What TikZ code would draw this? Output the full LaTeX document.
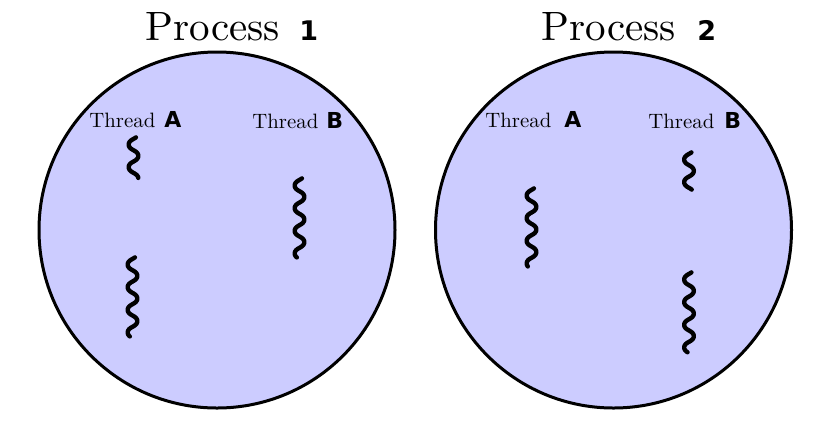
\documentclass[tikz,border=0pt]{standalone}
\usepackage{fontspec}
\newfontfamily\lblfont{DejaVu Sans}
\newfontfamily\titlefont{lmroman10-regular.otf}
\definecolor{procfill}{HTML}{CCCCFF}
\tikzset{
  proc/.style={draw=black, line width=1.5pt, fill=procfill},
  title/.style={anchor=base west, inner sep=0pt, font=\titlefont\fontsize{20.5}{24}\selectfont},
  titlenum/.style={anchor=base west, inner sep=0pt, font=\lblfont\bfseries\fontsize{13.5}{16}\selectfont},
  thr/.style={anchor=base west, inner sep=0pt, font=\titlefont\fontsize{10.4}{13}\selectfont},
  thrid/.style={anchor=base west, inner sep=0pt, font=\lblfont\bfseries\fontsize{11}{13}\selectfont},
  squig/.style={line width=2.2pt, line cap=round, line join=round}
}
% vertical wavy thread: #1 = x, #2 = top y, #3 = length (one wave every ~22.6 units),
% crests slightly stretched so the bends come out round
\newcommand{\threadwave}[3]{%
  \draw[squig] plot[domain=0:#3, samples=120, smooth, variable=\t]
    ({#1-4.8*sin(\t*15.9-30)}, {#2+\t-0.45*sin(2*(\t*15.9-30))});}
\begin{document}
\begin{tikzpicture}[x=0.5pt, y=-0.5pt]
  \useasboundingbox (0,0) rectangle (840,425);

  % processes
  \node[proc, circle, minimum size=178pt, inner sep=0pt] (p1) at (217,230) {};
  \node[proc, circle, minimum size=178pt, inner sep=0pt] (p2) at (613.5,230) {};

  % titles
  \node[title] (t1) at (145,40) {Process};
  \node[titlenum] (n1) at (299,40) {1};
  \node[title] (t2) at (541,40) {Process};
  \node[titlenum] (n2) at (697,40) {2};

  % thread labels, process 1
  \node[thr] (a1) at (89,127) {Thread};
  \node[thrid] (a1id) at (164,127) {A};
  \node[thr] (b1) at (252,128) {Thread};
  \node[thrid] (b1id) at (326,128) {B};

  % thread labels, process 2
  \node[thr] (a2) at (485,127) {Thread};
  \node[thrid] (a2id) at (564,127) {A};
  \node[thr] (b2) at (648,128) {Thread};
  \node[thrid] (b2id) at (724,128) {B};

  % threads, process 1
  \threadwave{133.5}{137}{41}
  \threadwave{132.5}{257}{79}
  \threadwave{299.5}{178}{79}

  % threads, process 2
  \threadwave{531.5}{188}{78}
  \threadwave{689}{152}{38}
  \threadwave{689}{272}{80}
\end{tikzpicture}
\end{document}
